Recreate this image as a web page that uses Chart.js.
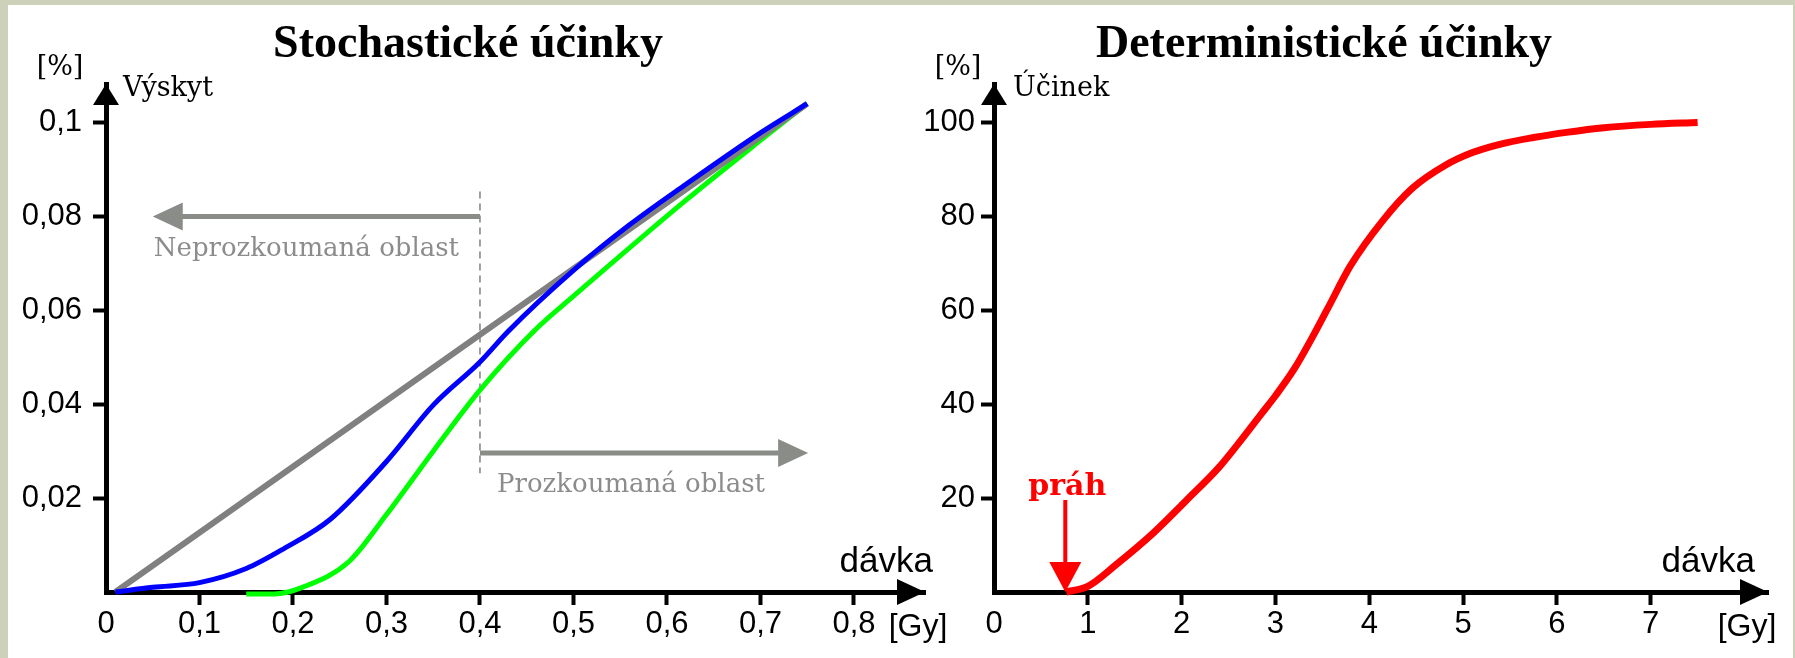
<!DOCTYPE html>
<html lang="cs">
<head>
    <meta charset="UTF-8">
    <title>Stochastické a deterministické účinky</title>
    <script src="https://cdn.jsdelivr.net/npm/chart.js@4.4.1/dist/chart.umd.min.js"></script>
    <style>
        body { margin: 0; background: #cdd1b9; }
        #panel { position: absolute; left: 8px; top: 5px; width: 1785px; height: 653px; background: #fff; }
        canvas { position: absolute; top: 0; }
        #stoch { left: 0; }
        #determ { left: 900px; }
    </style>
</head>
<body>
    <div id="panel"></div>
    <canvas id="stoch" width="950" height="658"></canvas>
    <canvas id="determ" width="895" height="658"></canvas>

    <script>
        // Stochastické účinky: dávka [Gy] -> výskyt [%]
        const stochXTicks = [0, 0.1, 0.2, 0.3, 0.4, 0.5, 0.6, 0.7, 0.8];
        const stochYTicks = [0.02, 0.04, 0.06, 0.08, 0.1];
        const linearX = [0.01, 0.75];
        const linearY = [0, 0.104];
        const blueX = [0.01, 0.05, 0.1, 0.15, 0.19, 0.24, 0.3, 0.35, 0.4, 0.43, 0.5, 0.56, 0.62, 0.7, 0.75];
        const blueY = [0, 0.001, 0.002, 0.005, 0.0092, 0.0155, 0.0278, 0.0398, 0.049, 0.0555, 0.0685, 0.0782, 0.0868, 0.0978, 0.104];
        const greenX = [0.15, 0.18, 0.21, 0.26, 0.3, 0.35, 0.4, 0.46, 0.5, 0.62, 0.7, 0.75];
        const greenY = [-0.0004, -0.0004, 0.001, 0.0065, 0.0165, 0.030, 0.043, 0.056, 0.063, 0.0834, 0.0962, 0.104];
        const boundaryDose = 0.4;

        // Deterministické účinky: dávka [Gy] -> účinek [%]
        const determXTicks = [0, 1, 2, 3, 4, 5, 6, 7];
        const determYTicks = [20, 40, 60, 80, 100];
        const redX = [0.77, 1.0, 1.3, 1.7, 2.05, 2.4, 2.6, 2.86, 3.0, 3.2, 3.4, 3.56, 3.8, 4.14, 4.46, 4.82, 5.1, 5.38, 5.75, 6.1, 6.5, 7.0, 7.5];
        const redY = [0, 1.2, 5.8, 12.6, 19.5, 26.6, 31.5, 38.2, 41.8, 47.5, 54.5, 60.5, 69.5, 79, 86, 91, 93.6, 95.3, 96.8, 97.9, 98.9, 99.6, 100];
        const thresholdDose = 0.76;

        const pts = (xs, ys) => xs.map((x, i) => ({ x: x, y: ys[i] }));
        const fmt = v => String(v).replace('.', ',');

        function line(data, color, width) {
            return {
                data: data, borderColor: color, borderWidth: width,
                pointRadius: 0, cubicInterpolationMode: 'monotone', clip: false
            };
        }

        function axes(c) {
            return {
                x: {
                    type: 'linear', min: 0, max: c.xMax,
                    afterBuildTicks: s => { s.ticks = c.xTicks.map(v => ({ value: v })); },
                    afterFit: s => { s.height = 66; },
                    grid: {
                        display: true, drawOnChartArea: false, tickLength: 13, tickWidth: 4,
                        tickColor: ctx => ctx.tick && ctx.tick.value === 0 ? 'rgba(0,0,0,0)' : '#000'
                    },
                    border: { display: true, color: '#000', width: 5 },
                    ticks: { callback: fmt, color: '#000', font: { family: 'Liberation Sans', size: 31 },
                             padding: 1, autoSkip: false, maxRotation: 0 }
                },
                y: {
                    type: 'linear', min: 0, max: c.yMax,
                    afterBuildTicks: s => { s.ticks = c.yTicks.map(v => ({ value: v })); },
                    afterFit: s => { s.width = c.yWidth; },
                    grid: { display: true, drawOnChartArea: false, tickLength: 13, tickWidth: 4, tickColor: '#000' },
                    border: { display: true, color: '#000', width: 5 },
                    ticks: { callback: fmt, color: '#000', font: { family: 'Liberation Sans', size: 31 },
                             padding: c.yPad, autoSkip: false }
                }
            };
        }

        // arrows at the axis ends, title and axis captions
        function frame(c) {
            return {
                id: 'frame',
                afterDraw(chart) {
                    const { ctx, chartArea: a } = chart;
                    ctx.save();
                    ctx.fillStyle = '#000';
                    ctx.beginPath();
                    ctx.moveTo(a.left, a.top);
                    ctx.lineTo(a.left - 13, a.top + 21);
                    ctx.lineTo(a.left + 13, a.top + 21);
                    ctx.closePath();
                    ctx.fill();
                    ctx.beginPath();
                    ctx.moveTo(a.right, a.bottom);
                    ctx.lineTo(a.right - 28, a.bottom - 13);
                    ctx.lineTo(a.right - 28, a.bottom + 13);
                    ctx.closePath();
                    ctx.fill();

                    ctx.textBaseline = 'alphabetic';
                    ctx.textAlign = 'center';
                    ctx.font = 'bold 46px "Liberation Serif"';
                    ctx.fillText(c.title, c.titleX, 57);

                    ctx.font = '27px "DejaVu Serif"';
                    ctx.fillText('[%]', c.unitX, 75);
                    ctx.textAlign = 'left';
                    ctx.fillText(c.yName, c.yNameX, 96);

                    ctx.font = '35px "Liberation Sans"';
                    ctx.textAlign = 'right';
                    ctx.fillText('dávka', c.doseX, 572);
                    ctx.textAlign = 'center';
                    ctx.font = '32px "Liberation Sans"';
                    ctx.fillText('[Gy]', c.gyX, 636);
                    ctx.restore();
                }
            };
        }

        function grayArrow(ctx, x0, tip, yy) {
            const dir = tip < x0 ? -1 : 1;
            ctx.strokeStyle = '#8a8c88';
            ctx.fillStyle = '#8a8c88';
            ctx.lineWidth = 5;
            ctx.beginPath();
            ctx.moveTo(x0, yy);
            ctx.lineTo(tip - dir * 28, yy);
            ctx.stroke();
            ctx.beginPath();
            ctx.moveTo(tip, yy);
            ctx.lineTo(tip - dir * 30, yy - 14);
            ctx.lineTo(tip - dir * 30, yy + 14);
            ctx.closePath();
            ctx.fill();
        }

        const stochNotes = {
            id: 'stochNotes',
            beforeDatasetsDraw(chart) {
                const { ctx, scales: { x, y } } = chart;
                const gx = x.getPixelForValue(boundaryDose);
                const upperY = y.getPixelForValue(0.08);
                const lowerY = y.getPixelForValue(0.0296);
                ctx.save();
                ctx.strokeStyle = '#808080';
                ctx.lineWidth = 1.5;
                ctx.setLineDash([7, 5]);
                ctx.beginPath();
                ctx.moveTo(gx, y.getPixelForValue(0.0853));
                ctx.lineTo(gx, y.getPixelForValue(0.0253));
                ctx.stroke();
                ctx.setLineDash([]);
                grayArrow(ctx, gx, x.getPixelForValue(0.05), upperY);
                grayArrow(ctx, gx, x.getPixelForValue(0.751), lowerY);
                ctx.fillStyle = '#8c8c8c';
                ctx.font = '26px "DejaVu Serif"';
                ctx.textAlign = 'left';
                ctx.fillText('Neprozkoumaná oblast', x.getPixelForValue(0.05) + 1, upperY + 40);
                ctx.fillText('Prozkoumaná oblast', gx + 17, lowerY + 39);
                ctx.restore();
            }
        };

        const thresholdNote = {
            id: 'thresholdNote',
            afterDatasetsDraw(chart) {
                const { ctx, scales: { x, y } } = chart;
                const tx = x.getPixelForValue(thresholdDose);
                const ty = y.getPixelForValue(0);
                ctx.save();
                ctx.strokeStyle = '#ff0000';
                ctx.fillStyle = '#ff0000';
                ctx.lineWidth = 4;
                ctx.beginPath();
                ctx.moveTo(tx, ty - 92);
                ctx.lineTo(tx, ty - 28);
                ctx.stroke();
                ctx.beginPath();
                ctx.moveTo(tx, ty);
                ctx.lineTo(tx - 16, ty - 30);
                ctx.lineTo(tx + 16, ty - 30);
                ctx.closePath();
                ctx.fill();
                ctx.font = 'bold 30px "DejaVu Serif"';
                ctx.textAlign = 'center';
                ctx.fillText('práh', tx + 2, ty - 97);
                ctx.restore();
            }
        };

        const common = {
            responsive: false,
            animation: false,
            devicePixelRatio: 1,
            plugins: { legend: { display: false }, tooltip: { enabled: false } }
        };

        new Chart(document.getElementById('stoch'), {
            type: 'line',
            data: {
                datasets: [
                    line(pts(blueX, blueY), '#0000ff', 5),
                    line(pts(linearX, linearY), '#808080', 6),
                    line(pts(greenX, greenY), '#00ff00', 5)
                ]
            },
            options: Object.assign({}, common, {
                layout: { padding: { left: 0, top: 84, right: 25, bottom: 0 } },
                scales: axes({ xMax: 0.876, yMax: 0.1082, xTicks: stochXTicks, yTicks: stochYTicks, yWidth: 106, yPad: 11 })
            }),
            plugins: [stochNotes, frame({
                title: 'Stochastické účinky', titleX: 468, unitX: 60,
                yName: 'Výskyt', yNameX: 123, doseX: 933, gyX: 918
            })]
        });

        new Chart(document.getElementById('determ'), {
            type: 'line',
            data: {
                datasets: [line(pts(redX, redY), '#ff0000', 7)]
            },
            options: Object.assign({}, common, {
                layout: { padding: { left: 0, top: 84, right: 27, bottom: 0 } },
                scales: axes({ xMax: 8.25, yMax: 108.2, xTicks: determXTicks, yTicks: determYTicks, yWidth: 94, yPad: 6 })
            }),
            plugins: [thresholdNote, frame({
                title: 'Deterministické účinky', titleX: 424, unitX: 58,
                yName: 'Účinek', yNameX: 113, doseX: 855, gyX: 847
            })]
        });
    </script>
</body>
</html>
